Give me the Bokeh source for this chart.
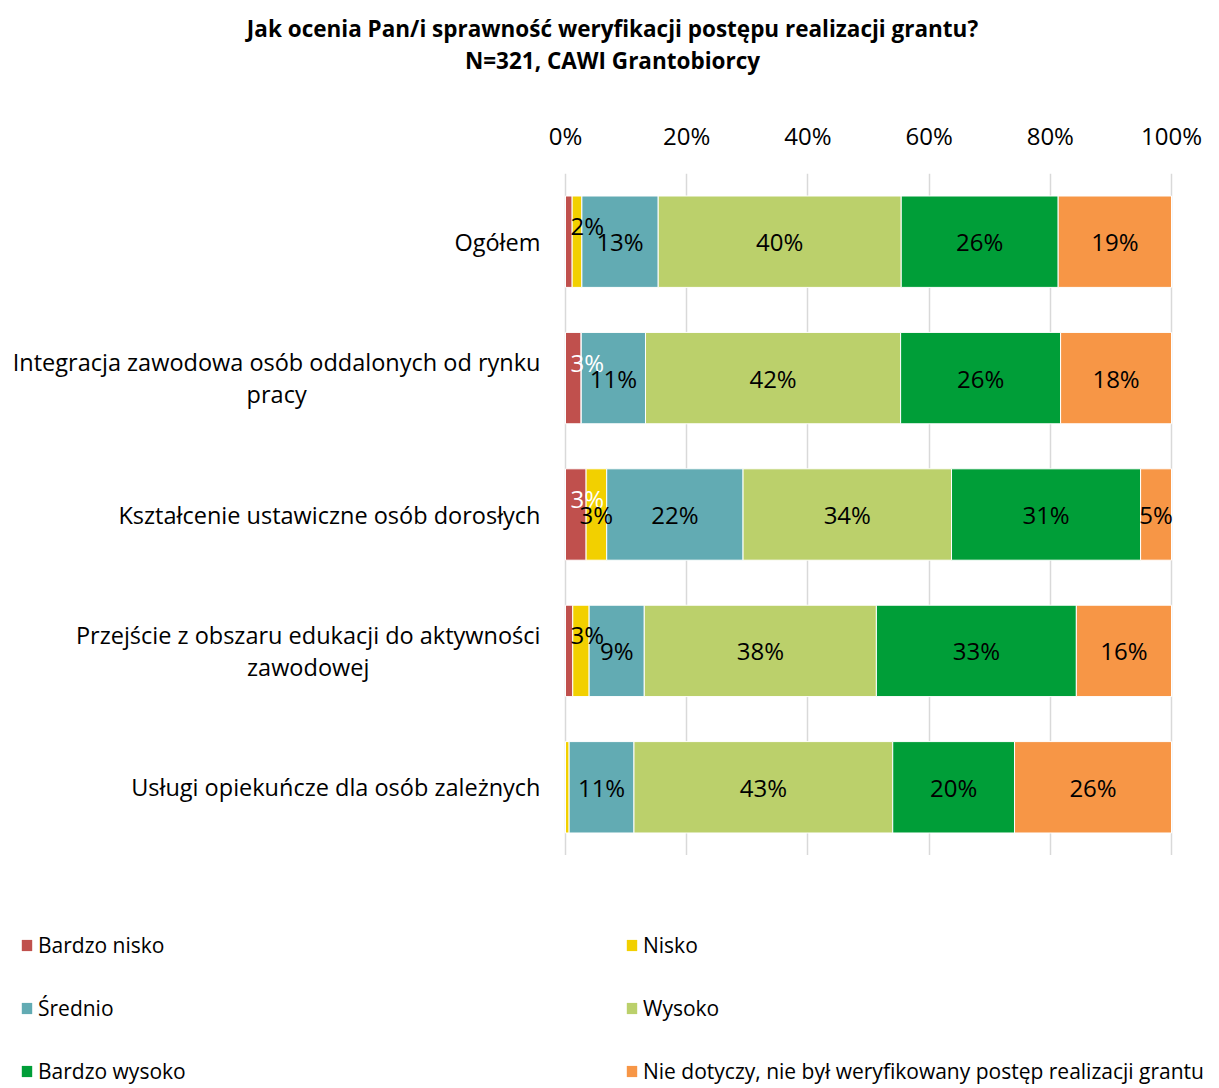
from bokeh.plotting import figure
from bokeh.layouts import column
from bokeh.models import (ColumnDataSource, FactorRange, Range1d, FixedTicker,
                          PrintfTickFormatter, Legend, LegendItem)
from bokeh.core.properties import value
from bokeh.embed import file_html
from bokeh.resources import INLINE

# ---------------- data ----------------
categories = [
    "Ogółem",
    "Integracja zawodowa osób oddalonych od rynku pracy",
    "Kształcenie ustawiczne osób dorosłych",
    "Przejście z obszaru edukacji do aktywności zawodowej",
    "Usługi opiekuńcze dla osób zależnych",
]
category_labels = [
    "Ogółem",
    "Integracja zawodowa osób oddalonych od rynku\npracy",
    "Kształcenie ustawiczne osób dorosłych",
    "Przejście z obszaru edukacji do aktywności\nzawodowej",
    "Usługi opiekuńcze dla osób zależnych",
]
series = [
    "Bardzo nisko",
    "Nisko",
    "Średnio",
    "Wysoko",
    "Bardzo wysoko",
    "Nie dotyczy, nie był weryfikowany postęp realizacji grantu",
]
bardzo_nisko = [1.1, 2.6, 3.4, 1.2, 0.0]
nisko = [1.6, 0.0, 3.4, 2.7, 0.6]
srednio = [12.6, 10.6, 22.5, 9.1, 10.7]
wysoko = [40.1, 42.1, 34.4, 38.3, 42.7]
bardzo_wysoko = [25.9, 26.4, 31.2, 33.0, 20.1]
nie_dotyczy = [18.7, 18.3, 5.1, 15.7, 25.9]
x_ticks = [0, 20, 40, 60, 80, 100]
title_lines = ["Jak ocenia Pan/i sprawność weryfikacji postępu realizacji grantu?",
               "N=321, CAWI Grantobiorcy"]

values = [bardzo_nisko, nisko, srednio, wysoko, bardzo_wysoko, nie_dotyczy]
colors = ["#C0504D", "#F2D000", "#62ABB3", "#BBD06B", "#009E38", "#F79646"]

# ---------------- layout constants ----------------
W = 1219
TITLE_H = 100          # title strip height
MAIN_H = 755           # axis + bars
LEG_H = 233            # legend strip height
PLOT_LEFT = 565        # pixel where 0% sits
PLOT_RIGHT = 48        # free space right of 100%
TOP_BORDER = 73        # room for the top axis inside the main figure
FONT = "Open Sans"

px_per_pct = (W - PLOT_RIGHT - PLOT_LEFT) / 100.0
x_start = -PLOT_LEFT / px_per_pct
x_end = 100 + PLOT_RIGHT / px_per_pct

# ---------------- title strip ----------------
pt = figure(width=W, height=TITLE_H, x_range=Range1d(0, W), y_range=Range1d(0, TITLE_H),
            output_backend="svg", toolbar_location=None,
            x_axis_location=None, y_axis_location=None,
            min_border=0)
pt.outline_line_color = None
pt.grid.visible = False
tsrc = ColumnDataSource(dict(x=[612, 612], y=[TITLE_H - 28, TITLE_H - 60], text=title_lines))
pt.text(x="x", y="y", text="text", source=tsrc, text_align="center",
        text_baseline="middle", text_font=value(FONT), text_font_style="bold",
        text_font_size="22.5px", text_color="black")

# ---------------- main chart ----------------
keys = [f"s{i}" for i in range(len(series))]
data = {"cat": categories}
for k, v in zip(keys, values):
    data[k] = v
src = ColumnDataSource(data)

p = figure(width=W, height=MAIN_H,
           y_range=FactorRange(factors=list(reversed(categories))),
           x_range=Range1d(x_start, x_end),
           x_axis_location="above", y_axis_location=None,
           output_backend="svg", toolbar_location=None,
           min_border_left=0, min_border_right=0,
           min_border_top=TOP_BORDER, min_border_bottom=0)
p.outline_line_color = None

renderers = p.hbar_stack(keys, y="cat", height=0.67, color=colors,
                         line_color="white", line_width=1, source=src)

xa = p.xaxis[0]
xa.ticker = FixedTicker(ticks=x_ticks)
xa.formatter = PrintfTickFormatter(format="%d%%")
xa.axis_line_color = None
xa.major_tick_line_color = None
xa.minor_tick_line_color = None
xa.major_label_text_font = FONT
xa.major_label_text_font_size = "24px"
xa.major_label_text_color = "#000000"
xa.major_label_standoff = 16

p.xgrid.grid_line_color = "#D9D9D9"
p.xgrid.grid_line_width = 1.5
p.xgrid.ticker = FixedTicker(ticks=x_ticks)
p.ygrid.grid_line_color = None

# category labels (right edge 25 px left of the 0% line)
csrc = ColumnDataSource(dict(x=[-25 / px_per_pct] * len(categories), y=categories,
                             text=category_labels))
p.text(x="x", y="y", text="text", source=csrc, anchor="center_right",
       text_align="center", text_baseline="middle", text_line_height=1.0,
       text_font=value(FONT), text_font_size="23.5px", text_color="black")

# data labels
lx, ly, lt, lc, loff = [], [], [], [], []
for i, cat in enumerate(categories):
    left = 0.0
    first_small = True
    for s, vals in enumerate(values):
        v = vals[i]
        if round(v) >= 2:
            cx = left + v / 2
            off = 0
            if v < 5:
                cx = max(cx, 3.6)
                if first_small:
                    off = -16
                    first_small = False
            lx.append(cx)
            ly.append(cat)
            lt.append(f"{round(v)}%")
            lc.append("white" if s == 0 else "black")
            loff.append(off)
        left += v
lsrc = ColumnDataSource(dict(x=lx, y=ly, text=lt, color=lc, off=loff))
p.text(x="x", y="y", text="text", text_color="color", y_offset="off",
       source=lsrc, text_align="center", text_baseline="middle",
       text_font=value(FONT), text_font_size="24px")

# ---------------- legend strip ----------------
pl = figure(width=W, height=LEG_H, x_range=Range1d(0, 1), y_range=Range1d(0, 1),
            output_backend="svg", toolbar_location=None,
            x_axis_location=None, y_axis_location=None, min_border=0)
pl.outline_line_color = None
pl.grid.visible = False
# swatch renderers placed outside the visible range: only their legend glyphs show
leg_renderers = [pl.rect(x=[-10], y=[-10], width=1, height=1, fill_color=c, line_color=None)
                 for c in colors]
items = [LegendItem(label=s, renderers=[r]) for s, r in zip(series, leg_renderers)]
for col, xs in ((0, 20), (1, 625)):
    leg = Legend(items=items[col::2], location=(xs, 3),
                 orientation="vertical", border_line_color=None,
                 background_fill_alpha=0, padding=0, margin=0, spacing=35,
                 glyph_width=13, glyph_height=14, label_standoff=5,
                 label_height=28, label_text_font=FONT,
                 label_text_font_size="21px", label_text_color="black")
    pl.add_layout(leg)

layout = column(pt, p, pl, spacing=0)
open("out.html", "w").write(file_html(layout, INLINE))
